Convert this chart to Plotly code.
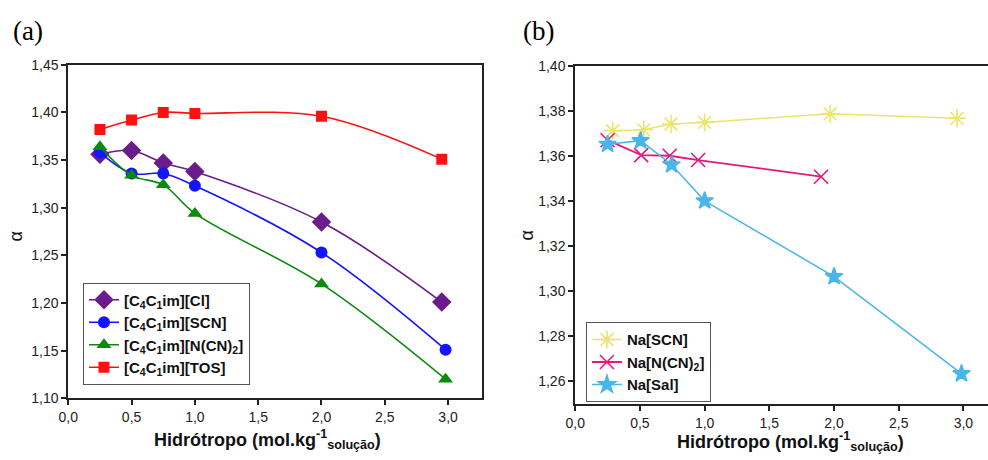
import plotly.graph_objects as go

# ---- Panel (a) data ----
x_cl = [0.25, 0.5, 0.75, 1.0, 2.0, 2.95]
y_cl = [1.356, 1.360, 1.347, 1.338, 1.285, 1.201]
x_scn = [0.25, 0.5, 0.75, 1.0, 2.0, 2.98]
y_scn = [1.358, 1.336, 1.336, 1.323, 1.253, 1.151]
x_ncn = [0.25, 0.5, 0.75, 1.0, 2.0, 2.98]
y_ncn = [1.364, 1.334, 1.324, 1.294, 1.220, 1.120]
x_tos = [0.25, 0.5, 0.75, 1.0, 2.0, 2.95]
y_tos = [1.382, 1.392, 1.400, 1.399, 1.396, 1.351]

# ---- Panel (b) data ----
x_nascn = [0.29, 0.53, 0.74, 1.0, 1.97, 2.95]
y_nascn = [1.3712, 1.3716, 1.3742, 1.3749, 1.3787, 1.3767]
x_nancn = [0.25, 0.51, 0.73, 0.95, 1.90]
y_nancn = [1.367, 1.3604, 1.3601, 1.3582, 1.3508]
x_nasal = [0.25, 0.505, 0.745, 1.0, 2.0, 2.985]
y_nasal = [1.3652, 1.3668, 1.3561, 1.3401, 1.3065, 1.2634]

names_a = ["<b>[C<sub>4</sub>C<sub>1</sub>im][Cl]</b>", "<b>[C<sub>4</sub>C<sub>1</sub>im][SCN]</b>",
           "<b>[C<sub>4</sub>C<sub>1</sub>im][N(CN)<sub>2</sub>]</b>", "<b>[C<sub>4</sub>C<sub>1</sub>im][TOS]</b>"]
names_b = ["<b>Na[SCN]</b>", "<b>Na[N(CN)<sub>2</sub>]</b>", "<b>Na[Sal]</b>"]

W, H = 988, 460
# observed page placement: shown = offset + scale * figure pixel
OX, SX, OY, SY = 10.0, 0.99, 7.5, 0.965


def px(p):
    return min(max((p - OX) / SX / W, 0.0), 1.0)


def py(p):
    return min(max(1 - (p - OY) / SY / H, 0.0), 1.0)


fig = go.Figure()


def add_a(x, y, name, color, symbol, size):
    fig.add_trace(go.Scatter(x=x, y=y, name=name, mode="lines+markers",
                             line=dict(color=color, width=1.6, shape="spline", smoothing=1.0),
                             marker=dict(color=color, symbol=symbol, size=size),
                             xaxis="x", yaxis="y", legend="legend"))


add_a(x_cl, y_cl, names_a[0], "#6a1b8c", "diamond", 15)
add_a(x_scn, y_scn, names_a[1], "#1414ff", "circle", 12)
add_a(x_ncn, y_ncn, names_a[2], "#0b8a0b", "triangle-up", 13)
add_a(x_tos, y_tos, names_a[3], "#ff1010", "square", 11)


def add_b(x, y, name, color, symbol, size, width):
    fig.add_trace(go.Scatter(x=x, y=y, name=name, mode="lines+markers",
                             line=dict(color=color, width=width),
                             marker=dict(color=color, symbol=symbol, size=size,
                                         line=dict(color=color, width=1.6)),
                             xaxis="x2", yaxis="y2", legend="legend2"))


add_b(x_nascn, y_nascn, names_b[0], "#ece36a", "asterisk-open", 15, 1.5)
add_b(x_nancn, y_nancn, names_b[1], "#e5177a", "x-thin-open", 14, 1.8)
add_b(x_nasal, y_nasal, names_b[2], "#48b6ea", "star", 13, 1.5)

axis_common = dict(showgrid=False, zeroline=False, showline=True, linecolor="#222",
                   linewidth=2, ticks="outside", ticklen=5, tickwidth=1.5, tickcolor="#222",
                   tickfont=dict(family="Liberation Sans, Arial", size=14, color="#222"))

fig.update_layout(
    width=W, height=H,
    margin=dict(l=0, r=0, t=0, b=0),
    paper_bgcolor="white", plot_bgcolor="white",
    separators=",.",
    showlegend=True,
    xaxis=dict(domain=[px(68.3), px(481.7)], range=[0, 3.265], dtick=0.5, tick0=0,
               tickformat=".1f", mirror=True, anchor="y", **axis_common),
    yaxis=dict(domain=[py(397.7), py(64.3)], range=[1.10, 1.45], dtick=0.05, tick0=1.10,
               tickformat=".2f", mirror=True, anchor="x", **axis_common),
    xaxis2=dict(domain=[px(575.3), 1.0], range=[0, 3.19], dtick=0.5, tick0=0,
                tickformat=".1f", mirror=True, anchor="y2", **axis_common),
    yaxis2=dict(domain=[py(403.3), py(65.3)], range=[1.25, 1.40], dtick=0.02, tick0=1.26,
                tickformat=".2f", mirror=False, anchor="x2", **axis_common),
    legend=dict(x=px(83), y=py(282), xanchor="left", yanchor="top",
                bordercolor="#555", borderwidth=1, bgcolor="white",
                font=dict(family="Liberation Sans, Arial", size=15, color="#111"),
                tracegroupgap=0, itemwidth=30),
    legend2=dict(x=px(586), y=py(321.7), xanchor="left", yanchor="top",
                 bordercolor="#555", borderwidth=1, bgcolor="white",
                 font=dict(family="Liberation Sans, Arial", size=15, color="#111"),
                 tracegroupgap=0, itemwidth=30),
)


def ann(text, x_pix, y_pix, font, angle=0):
    fig.add_annotation(text=text, x=px(x_pix), y=py(y_pix), xref="paper", yref="paper",
                       showarrow=False, font=font, xanchor="center", yanchor="middle",
                       textangle=angle)


ann_font = dict(family="Liberation Sans, Arial", size=18, color="#111")
xtitle = "<b>Hidrótropo (mol.kg<sup>-1</sup><sub>solução</sub>)</b>"
ann(xtitle, 268, 439, ann_font)
ann(xtitle, 791, 441, ann_font)
alpha_font = dict(family="Liberation Sans, Arial", size=18, color="#111")
ann("α", 16, 236, alpha_font, -90)
ann("α", 527, 235, alpha_font, -90)
label_font = dict(family="Liberation Serif, Times New Roman", size=27, color="#000")
ann("(a)", 28, 30, label_font)
ann("(b)", 539, 30, label_font)

fig.write_html("out.html")
